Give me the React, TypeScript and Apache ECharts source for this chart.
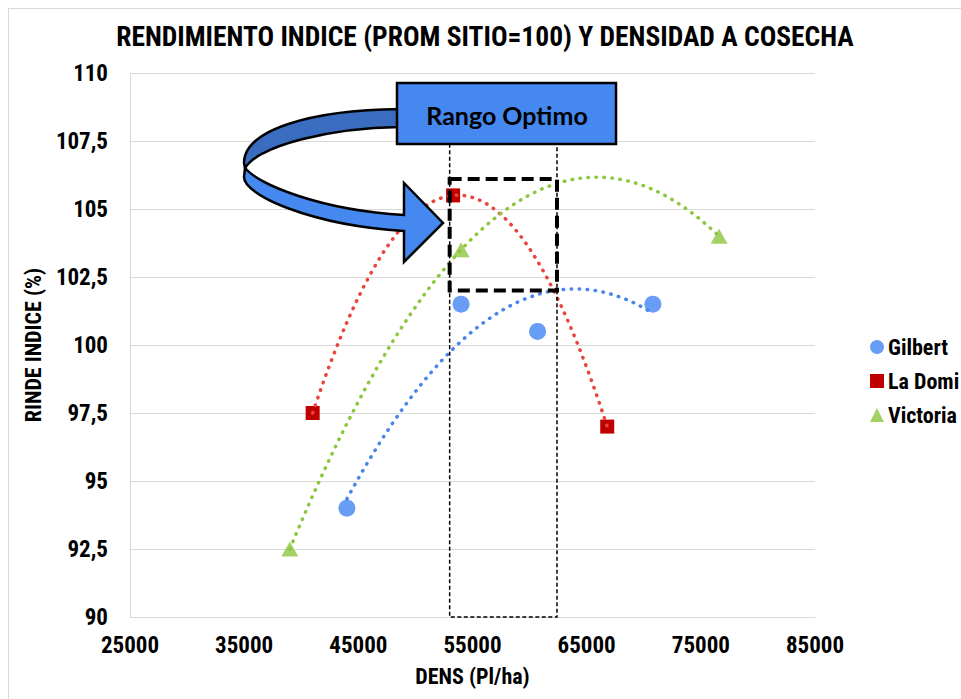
import React, { useEffect, useRef } from "react";
import * as echarts from "echarts";

// ---- data ----
const gilbertX = [44000, 54000, 60700, 70800];
const gilbertY = [94, 101.5, 100.5, 101.5];
const laDomiX = [41000, 53300, 66800];
const laDomiY = [97.5, 105.5, 97];
const victoriaX = [39000, 54000, 76600];
const victoriaY = [92.5, 103.5, 104];

const seriesNames = ["Gilbert", "La Domi", "Victoria"];
const xMin = 25000;
const xMax = 85000;
const xStep = 10000;
const yMin = 90;
const yMax = 110;
const yStep = 2.5;

// "Rango Optimo" region (density range, yield index range)
const optimoX = [53000, 62400];
const optimoY = [102, 106.1];

const FONT = "'Roboto Condensed','Liberation Sans Narrow','Arial Narrow','DejaVu Sans Condensed',sans-serif";

// Excel-style 2nd order polynomial trendline (least squares) over the data range
function polyTrend(xs: number[], ys: number[], steps = 80): number[][] {
  const s = 1000;
  const u = xs.map((x) => x / s);
  let n = u.length, S1 = 0, S2 = 0, S3 = 0, S4 = 0, T0 = 0, T1 = 0, T2 = 0;
  for (let i = 0; i < n; i++) {
    const a = u[i], y = ys[i];
    S1 += a; S2 += a * a; S3 += a * a * a; S4 += a * a * a * a;
    T0 += y; T1 += a * y; T2 += a * a * y;
  }
  const M = [
    [n, S1, S2, T0],
    [S1, S2, S3, T1],
    [S2, S3, S4, T2],
  ];
  for (let c = 0; c < 3; c++) {
    let p = c;
    for (let r = c + 1; r < 3; r++) if (Math.abs(M[r][c]) > Math.abs(M[p][c])) p = r;
    [M[c], M[p]] = [M[p], M[c]];
    for (let r = 0; r < 3; r++) {
      if (r === c) continue;
      const f = M[r][c] / M[c][c];
      for (let k = c; k < 4; k++) M[r][k] -= f * M[c][k];
    }
  }
  const c0 = M[0][3] / M[0][0], c1 = M[1][3] / M[1][1], c2 = M[2][3] / M[2][2];
  const lo = Math.min(...u), hi = Math.max(...u);
  const out: number[][] = [];
  for (let i = 0; i <= steps; i++) {
    const a = lo + ((hi - lo) * i) / steps;
    out.push([a * s, c0 + c1 * a + c2 * a * a]);
  }
  return out;
}

const zip = (xs: number[], ys: number[]) => xs.map((x, i) => [x, ys[i]]);

// curved 3D-style arrow (page pixel coordinates)
const ARROW_DARK = "M 400 109 C 310 110 244 130 244 163 L 245 168 C 260 145 330 128 400 127 Z";
const ARROW_LIGHT =
  "M 245 168 C 260 185 320 210 404 215 L 404 183 L 443 223 L 404 262 L 404 231 C 310 225 244 195 244 177 Z";

let registered = false;
function registerShapes() {
  if (registered) return;
  registered = true;
  echarts.graphic.registerShape("arrowDark", echarts.graphic.extendPath(ARROW_DARK, {}));
  echarts.graphic.registerShape("arrowLight", echarts.graphic.extendPath(ARROW_LIGHT, {}));
}

const OFF = 9; // chart origin in page coordinates

export default function App() {
  const ref = useRef<HTMLDivElement>(null);
  useEffect(() => {
    if (!ref.current) return;
    registerShapes();
    const chart = echarts.init(ref.current, null, { renderer: "svg" });
    const colors = { g: "#4285F4", gl: "#4a86e8", r: "#C00000", rl: "#E8453C", v: "#8DC63F", vl: "#8DC63F" };
    const dotted = (color: string) => ({
      color,
      width: 3.5,
      type: [0.5, 7.5],
      cap: "round",
    });
    const option: any = {
      animation: false,
      backgroundColor: "#ffffff",
      title: {
        text: "RENDIMIENTO INDICE (PROM SITIO=100) Y DENSIDAD A COSECHA",
        left: "center",
        top: 13,
        padding: [0, 0, 0, 30],
        textStyle: { fontFamily: FONT, fontSize: 27.5, fontWeight: "bold", color: "#000" },
      },
      grid: { left: 121, top: 64, width: 685, height: 544, containLabel: false },
      legend: {
        orient: "vertical",
        left: 856,
        top: 322,
        itemWidth: 14,
        itemHeight: 14,
        itemGap: 12,
        textStyle: { fontFamily: FONT, fontSize: 22, fontWeight: "bold", color: "#000", padding: [0, 0, 0, -1] },
        data: [
          { name: seriesNames[0], icon: "circle" },
          { name: seriesNames[1], icon: "rect" },
          { name: seriesNames[2], icon: "triangle" },
        ],
      },
      xAxis: {
        type: "value",
        min: xMin,
        max: xMax,
        interval: xStep,
        name: "DENS (Pl/ha)",
        nameLocation: "middle",
        nameGap: 48,
        nameTextStyle: { fontFamily: FONT, fontSize: 22, fontWeight: "bold", color: "#000" },
        axisLine: { show: true, lineStyle: { color: "#d9d9d9" } },
        axisTick: { show: false },
        splitLine: { show: false },
        axisLabel: {
          fontFamily: FONT,
          fontSize: 23,
          fontWeight: "bold",
          color: "#000",
          margin: 17,
          formatter: (v: number) => String(v),
        },
      },
      yAxis: {
        type: "value",
        min: yMin,
        max: yMax,
        interval: yStep,
        name: "RINDE INDICE (%)",
        nameLocation: "middle",
        nameGap: 66,
        nameRotate: 90,
        nameTextStyle: { fontFamily: FONT, fontSize: 22, fontWeight: "bold", color: "#000" },
        axisLine: { show: true, lineStyle: { color: "#d9d9d9" } },
        axisTick: { show: false },
        splitLine: { show: true, lineStyle: { color: "#d9d9d9", width: 1 } },
        axisLabel: {
          fontFamily: FONT,
          fontSize: 23,
          fontWeight: "bold",
          color: "#000",
          margin: 22,
          formatter: (v: number) => String(v).replace(".", ","),
        },
      },
      series: [
        {
          name: seriesNames[0],
          type: "scatter",
          symbol: "circle",
          symbolSize: 17,
          itemStyle: { color: colors.g },
          data: zip(gilbertX, gilbertY),
          z: 2,
        },
        {
          name: seriesNames[1],
          type: "scatter",
          symbol: "rect",
          symbolSize: 14,
          itemStyle: { color: colors.r, opacity: 1 },
          data: zip(laDomiX, laDomiY),
          z: 2,
        },
        {
          name: seriesNames[2],
          type: "scatter",
          symbol: "triangle",
          symbolSize: [17, 15],
          itemStyle: { color: colors.v },
          data: zip(victoriaX, victoriaY),
          z: 2,
        },
        {
          name: "Gilbert (tendencia)",
          type: "line",
          showSymbol: false,
          symbol: "none",
          silent: true,
          lineStyle: dotted(colors.gl),
          data: polyTrend(gilbertX, gilbertY),
          z: 3,
        },
        {
          name: "La Domi (tendencia)",
          type: "line",
          showSymbol: false,
          symbol: "none",
          silent: true,
          lineStyle: dotted(colors.rl),
          data: polyTrend(laDomiX, laDomiY),
          z: 3,
        },
        {
          name: "Victoria (tendencia)",
          type: "line",
          showSymbol: false,
          symbol: "none",
          silent: true,
          lineStyle: dotted(colors.vl),
          data: polyTrend(victoriaX, victoriaY),
          z: 3,
        },
      ],
    };
    chart.setOption(option);

    // optimum range rectangles positioned through the axes
    const p0 = chart.convertToPixel({ gridIndex: 0 }, [optimoX[0], optimoY[1]]) as number[];
    const p1 = chart.convertToPixel({ gridIndex: 0 }, [optimoX[1], optimoY[0]]) as number[];
    const pb = chart.convertToPixel({ gridIndex: 0 }, [optimoX[0], yMin]) as number[];
    const boxBottom = 144 - OFF;

    chart.setOption({
      graphic: [
        {
          type: "rect",
          z: 10,
          shape: { x: p0[0], y: boxBottom, width: p1[0] - p0[0], height: pb[1] - boxBottom },
          style: { fill: "none", stroke: "#000", lineWidth: 1.5, lineDash: [4, 2.5] },
        },
        {
          type: "rect",
          z: 11,
          shape: { x: p0[0], y: p0[1], width: p1[0] - p0[0], height: p1[1] - p0[1] },
          style: { fill: "none", stroke: "#000", lineWidth: 4, lineDash: [12, 6] },
        },
        {
          type: "group",
          x: -OFF,
          y: -OFF,
          z: 12,
          children: [
            {
              type: "arrowDark",
              x: 0,
              y: 0,
              z: 12,
              style: { fill: "#3A6CC0", stroke: "#000", lineWidth: 2.5, lineJoin: "round" },
            },
            {
              type: "arrowLight",
              x: 0,
              y: 0,
              z: 12,
              style: { fill: "#4488F0", stroke: "#000", lineWidth: 2.5, lineJoin: "miter" },
            },
            {
              type: "rect",
              z: 13,
              shape: { x: 397, y: 83, width: 219, height: 61 },
              style: { fill: "#4488F0", stroke: "#000", lineWidth: 2.5 },
            },
            {
              type: "text",
              z: 14,
              x: 507,
              y: 115,
              style: {
                text: "Rango Optimo",
                fill: "#000",
                fontFamily: "Lato, 'Open Sans', sans-serif",
                fontSize: 25,
                fontWeight: "bold",
                align: "center",
                verticalAlign: "middle",
                textAlign: "center",
                textVerticalAlign: "middle",
              },
            },
          ],
        },
      ],
    });

    return () => chart.dispose();
  }, []);

  return (
    <div
      style={{
        position: "fixed",
        left: 8,
        top: 8,
        width: 953,
        height: 691,
        boxSizing: "border-box",
        borderTop: "1px solid #d9d9d9",
        borderLeft: "1px solid #d9d9d9",
        overflow: "hidden",
        background: "#fff",
      }}
    >
      <div ref={ref} style={{ width: 952, height: 690 }} />
    </div>
  );
}
